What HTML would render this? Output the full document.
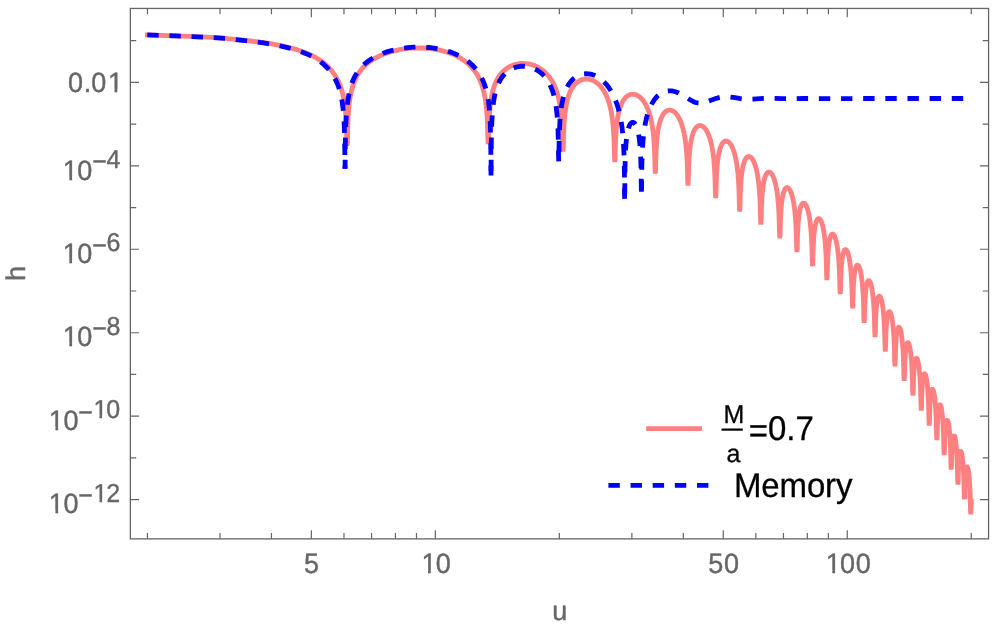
<!DOCTYPE html>
<html><head><meta charset="utf-8"><title>plot</title>
<style>
html,body{margin:0;padding:0;background:#fff;overflow:hidden;}
svg{display:block}
text{font-family:"Liberation Sans",sans-serif;text-rendering:geometricPrecision;font-kerning:none;}
</style></head>
<body>
<svg width="997" height="626" viewBox="0 0 997 626">
<rect width="997" height="626" fill="#fff"/>
<path d="M145.02 34.89L167.02 35.59L189.6 36.43L207.76 37.22L220.44 37.91L225.36 38.28L230.8 38.8L252.92 41.26L259.78 42.08L267.82 43.22L275.72 44.59L283.72 46.26L291.22 48.08L297.64 49.93L303.56 51.94L306.28 52.99L308.68 54L311.08 55.11L313.42 56.29L315.8 57.6L318.1 58.99L320.34 60.45L322.48 61.98L324.28 63.39L326.02 64.9L327.7 66.49L329.34 68.19L331.02 70.1L332.64 72.12L334.18 74.23L335.58 76.34L336.84 78.44L338 80.61L339.06 82.83L340.04 85.16L340.88 87.43L341.64 89.77L342.34 92.23L342.98 94.81L343.56 97.51L344.08 100.33L344.98 106.55L345.68 113.48L346.2 121.16L346.58 129.98L346.86 141.18L347.16 145.8L347.46 140.58L347.82 125.33L348.08 119.1L348.42 113.26L348.82 108.18L349.3 103.52L349.88 99.14L350.54 95.19L351.32 91.42L352.22 87.88L353.24 84.58L354.4 81.44L355.68 78.53L357.12 75.76L358.7 73.15L360.44 70.69L362.54 68.13L364.86 65.72L367.38 63.46L370.12 61.34L373.08 59.36L376.26 57.53L379.66 55.84L383.26 54.3L387.12 52.89L391.16 51.64L395.36 50.57L399.7 49.67L404.16 48.96L408.68 48.43L413.24 48.1L417.82 47.96L422.34 48.02L426.82 48.26L431.22 48.7L435.5 49.33L439.66 50.13L443.7 51.13L447.58 52.3L451.3 53.64L454.82 55.15L458.14 56.81L461.28 58.64L464.24 60.64L466.98 62.78L469.54 65.08L471.9 67.54L474.06 70.15L475.88 72.7L477.54 75.38L479.06 78.23L480.42 81.22L481.64 84.37L482.74 87.76L483.7 91.31L484.54 95.08L485.26 99.06L485.88 103.33L486.42 108.08L486.86 113.11L487.22 118.58L487.52 124.85L487.92 139.29L488.23 144.2L488.54 140.09L488.82 127.88L489.24 117.92L489.84 109.42L490.62 102.29L491.1 99.01L491.64 95.94L492.26 92.99L492.94 90.26L493.7 87.66L494.52 85.25L495.42 82.98L496.4 80.84L497.56 78.65L498.82 76.6L500.18 74.7L501.66 72.92L503.24 71.29L504.92 69.8L506.7 68.46L508.58 67.27L510.56 66.23L512.62 65.34L514.76 64.62L516.96 64.06L519.22 63.68L521.5 63.47L523.8 63.44L526.12 63.58L528.4 63.9L530.64 64.38L532.86 65.02L535.02 65.83L537.14 66.8L539.18 67.91L541.16 69.18L543.06 70.6L544.86 72.14L546.56 73.81L548.18 75.62L549.7 77.56L551.12 79.61L552.46 81.81L553.7 84.13L554.84 86.57L555.82 88.97L556.72 91.48L557.54 94.11L558.3 96.92L558.98 99.84L559.58 102.86L560.14 106.18L560.62 109.59L561.4 116.92L562 125.55L562.42 135.5L562.7 147.51L563 151.6L563.3 147.32L563.54 136.72L563.88 127.95L564.34 120.43L564.94 113.87L565.72 107.94L566.66 102.8L567.2 100.46L567.8 98.22L568.46 96.08L569.16 94.12L569.98 92.12L570.86 90.28L571.8 88.58L572.82 86.98L573.9 85.54L575.04 84.23L576.26 83.05L577.52 82.03L578.86 81.14L580.24 80.4L581.68 79.82L583.14 79.39L584.64 79.13L586.18 79.02L587.72 79.08L589.26 79.31L590.78 79.68L592.28 80.21L593.76 80.89L595.22 81.73L596.64 82.7L598.02 83.82L599.36 85.08L600.64 86.46L601.86 87.95L603.02 89.57L604.12 91.3L605.16 93.15L606.14 95.11L607.06 97.19L607.92 99.38L608.72 101.7L609.42 104L610.06 106.39L611.18 111.46L612.12 117.09L612.88 123.3L613.46 129.96L613.92 137.7L614.26 146.64L614.5 157.36L614.8 162L615.1 157.43L615.3 148.23L615.6 139.81L616 132.59L616.5 126.45L617.14 120.88L617.9 116.07L618.82 111.74L619.88 107.96L620.52 106.11L621.2 104.41L621.94 102.81L622.72 101.35L623.56 100L624.44 98.8L625.36 97.74L626.34 96.8L627.36 96L628.42 95.34L629.5 94.84L630.62 94.48L631.76 94.28L632.92 94.23L634.08 94.33L635.26 94.59L636.42 94.99L637.56 95.53L638.7 96.23L639.82 97.06L640.9 98.02L641.96 99.12L642.98 100.34L643.98 101.71L644.92 103.16L645.82 104.74L646.68 106.43L647.5 108.24L648.26 110.13L648.98 112.13L650.28 116.46L651.34 120.94L652.24 125.81L653 131.17L653.62 137.04L654.12 143.6L654.5 150.77L654.8 159.4L655 168.73L655.3 173.6L655.6 169.07L655.78 160.63L656.04 152.89L656.38 146.18L656.8 140.41L657.32 135.26L657.96 130.59L658.72 126.44L659.6 122.8L660.68 119.41L661.28 117.9L661.9 116.55L662.56 115.32L663.26 114.2L664 113.2L664.76 112.35L665.56 111.62L666.4 111.02L667.26 110.57L668.14 110.26L669.04 110.09L669.94 110.07L670.86 110.19L671.78 110.46L672.7 110.87L673.6 111.41L674.5 112.1L675.38 112.92L676.24 113.86L677.08 114.93L677.9 116.13L678.68 117.43L680.14 120.34L681.48 123.7L682.68 127.46L683.74 131.64L684.6 135.9L685.34 140.54L685.98 145.72L686.5 151.3L686.92 157.41L687.26 164.4L687.52 172.35L687.7 180.95L688 185.6L688.3 181.26L688.48 172.83L688.7 166.1L689 159.8L689.38 154.17L689.84 149.22L690.4 144.75L691.04 140.89L691.8 137.39L692.7 134.23L693.74 131.49L694.3 130.32L694.9 129.25L695.52 128.32L696.16 127.53L696.82 126.87L697.52 126.33L698.24 125.92L698.96 125.66L699.7 125.53L700.46 125.54L701.22 125.69L701.98 125.97L702.74 126.4L703.48 126.94L704.22 127.62L704.96 128.44L705.68 129.38L706.38 130.44L707.7 132.87L708.92 135.71L710.04 138.97L711.04 142.59L711.94 146.65L712.68 150.83L713.32 155.38L713.86 160.29L714.32 165.77L714.68 171.52L714.98 178.15L715.2 185.15L715.38 193.84L715.68 198.1L715.98 193.78L716.36 179.3L716.62 173.62L716.96 168.27L717.38 163.43L717.86 159.28L718.44 155.47L719.1 152.16L719.88 149.16L720.78 146.56L721.76 144.47L722.28 143.61L722.84 142.84L723.42 142.21L724 141.72L724.62 141.34L725.24 141.11L725.86 141L726.5 141.03L727.14 141.19L727.8 141.49L728.44 141.91L729.08 142.46L729.72 143.14L730.34 143.94L731.54 145.87L732.68 148.26L733.74 151.07L734.7 154.23L735.56 157.73L736.34 161.66L736.98 165.67L737.54 170.05L738.02 174.8L738.42 179.92L738.76 185.7L739.02 191.73L739.4 206.86L739.7 211.7L740 206.96L740.36 193L740.62 187.19L740.92 182.31L741.28 177.93L741.72 173.86L742.24 170.2L742.82 167.05L743.52 164.14L744.3 161.7L745.16 159.71L746.1 158.18L746.6 157.6L747.12 157.13L747.64 156.8L748.18 156.59L748.74 156.51L749.3 156.56L749.86 156.74L750.42 157.05L750.98 157.48L751.54 158.04L752.62 159.5L753.66 161.41L754.64 163.74L755.56 166.48L756.4 169.58L757.16 173.03L757.84 176.84L758.42 180.87L758.92 185.2L759.34 189.78L759.7 194.82L760 200.35L760.24 206.34L760.58 220.56L760.88 224.7L761.18 220.01L761.52 206.81L762.02 196.88L762.36 192.49L762.76 188.57L763.22 185.11L763.74 182.08L764.36 179.3L765.06 176.93L765.82 175.03L766.64 173.59L767.08 173.03L767.52 172.6L767.98 172.29L768.46 172.09L768.94 172.02L769.44 172.07L769.92 172.24L770.42 172.55L770.9 172.96L771.38 173.49L772.34 174.91L773.26 176.76L774.14 179.05L774.96 181.72L775.7 184.7L776.38 188.05L776.98 191.68L777.5 195.54L777.94 199.57L778.32 203.9L778.66 208.81L779.16 219.56L779.5 233.44L779.8 238.3L780.1 234.28L780.4 221.9L780.88 211.67L781.18 207.54L781.54 203.73L781.96 200.3L782.42 197.39L782.98 194.65L783.6 192.36L784.28 190.49L785.02 189.07L785.8 188.11L786.22 187.79L786.64 187.6L787.06 187.52L787.5 187.57L787.94 187.74L788.38 188.03L789.24 188.94L790.1 190.32L790.94 192.16L791.72 194.36L792.46 196.97L793.14 199.94L793.76 203.25L794.3 206.77L794.76 210.43L795.18 214.54L795.84 223.56L796.32 234.54L796.62 247.32L796.92 252L797.22 247.96L797.52 235.67L797.96 226.17L798.24 222.18L798.58 218.44L798.96 215.21L799.38 212.42L799.88 209.84L800.44 207.64L801.06 205.84L801.72 204.49L802.44 203.56L802.8 203.27L803.18 203.09L803.56 203.03L803.96 203.09L804.34 203.25L804.74 203.54L805.52 204.45L806.28 205.78L807.02 207.53L807.74 209.72L808.4 212.23L809.02 215.12L809.58 218.32L810.08 221.79L810.88 229.25L811.5 238.09L811.94 248.36L812.24 261.09L812.55 266L812.86 260.87L813.16 249.14L813.58 240.24L814.16 232.98L814.52 229.87L814.92 227.17L815.4 224.67L815.92 222.62L816.48 220.99L817.1 219.73L817.76 218.92L818.1 218.68L818.46 218.56L818.8 218.55L819.16 218.66L819.52 218.88L819.88 219.21L820.58 220.19L821.28 221.62L821.94 223.4L822.58 225.6L823.18 228.16L823.72 230.97L824.22 234.12L824.66 237.48L825.38 244.82L825.94 253.46L826.34 263.43L826.62 275.95L826.92 280L827.22 275.33L827.48 264.62L827.88 255.52L828.42 248.3L828.74 245.34L829.12 242.58L829.54 240.21L830.02 238.15L830.54 236.51L831.1 235.27L831.7 234.46L832 234.22L832.32 234.08L832.64 234.05L832.96 234.14L833.28 234.33L833.6 234.62L834.24 235.52L834.88 236.86L835.5 238.59L836.08 240.65L836.62 243.03L837.14 245.82L837.6 248.81L838.02 252.11L838.7 259.18L839.24 267.59L839.64 277.61L839.9 288.97L840.21 294.1L840.52 289.42L840.78 278.78L841.16 270.11L841.66 263.26L842.32 257.69L842.72 255.36L843.16 253.42L843.64 251.85L844.14 250.71L844.68 249.94L844.96 249.71L845.26 249.58L845.54 249.56L845.84 249.65L846.14 249.84L846.44 250.14L847.04 251.06L847.62 252.37L848.18 254.04L848.72 256.09L849.22 258.43L849.7 261.17L850.52 267.39L851.16 274.43L851.66 282.64L852.02 291.9L852.28 303.35L852.59 308.3L852.9 303.57L853.14 293.64L853.5 285.14L853.98 278.33L854.6 272.9L854.98 270.61L855.38 268.77L855.82 267.27L856.3 266.14L856.8 265.41L857.06 265.2L857.34 265.08L857.6 265.07L857.88 265.17L858.44 265.69L858.98 266.59L859.52 267.9L860.04 269.57L860.54 271.6L861 273.89L861.44 276.56L862.2 282.64L862.8 289.57L863.26 297.41L863.62 307L863.86 317.88L864.17 322.8L864.48 317.72L864.72 307.92L865.06 299.87L865.52 293.25L866.12 287.91L866.48 285.72L866.86 283.96L867.28 282.53L867.72 281.5L868.2 280.83L868.44 280.66L868.68 280.58L868.92 280.59L869.18 280.71L869.7 281.27L870.2 282.19L870.7 283.5L871.18 285.16L871.64 287.16L872.48 292.11L873.18 298.06L873.74 304.89L874.18 312.79L874.5 321.63L874.74 332.73L875.04 337.1L875.34 332.87L875.56 323.41L875.88 315.37L876.32 308.67L876.86 303.55L877.18 301.44L877.54 299.62L877.92 298.19L878.34 297.1L878.78 296.4L879 296.2L879.24 296.1L879.46 296.09L879.7 296.18L880.18 296.67L880.66 297.55L881.12 298.78L881.56 300.32L882 302.27L882.8 307.08L883.48 313L884.02 319.76L884.44 327.45L884.76 336.44L884.98 346.6L885.29 351.7L885.6 346.76L885.82 337.59L886.14 329.73L886.56 323.41L887.08 318.51L887.38 316.53L887.72 314.81L888.08 313.48L888.48 312.45L888.9 311.82L889.1 311.67L889.32 311.59L889.54 311.62L889.76 311.74L890.2 312.26L890.64 313.15L891.08 314.43L891.5 316.03L891.9 317.94L892.64 322.7L893.26 328.41L893.76 334.94L894.16 342.52L894.46 351.16L894.68 361.49L894.98 366.3L895.28 362.1L895.5 352.62L895.8 345.02L896.2 338.76L896.68 334.01L896.98 331.94L897.3 330.26L897.64 328.94L898 327.98L898.38 327.36L898.58 327.18L898.78 327.1L898.98 327.12L899.2 327.23L899.62 327.74L900.04 328.62L900.44 329.82L900.84 331.4L901.22 333.28L901.92 337.94L902.52 343.67L903 350.18L903.38 357.63L903.68 366.61L903.88 376.33L904.18 380.8L904.48 376.45L904.7 367.1L904.98 360L905.36 353.93L905.82 349.28L906.4 345.67L906.72 344.39L907.06 343.45L907.42 342.85L907.8 342.61L907.98 342.63L908.18 342.73L908.58 343.24L908.98 344.12L909.36 345.31L909.74 346.88L910.1 348.74L910.76 353.33L911.32 358.88L911.78 365.32L912.14 372.56L912.42 380.98L912.62 390.57L912.92 395.7L913.22 391.43L913.42 382.63L913.7 375.24L914.06 369.3L914.5 364.68L915.04 361.18L915.36 359.85L915.68 358.93L916.02 358.35L916.38 358.12L916.56 358.14L916.74 358.25L917.12 358.75L917.48 359.57L917.84 360.74L918.54 364.09L919.16 368.52L919.7 374.01L920.14 380.31L920.5 387.72L920.76 395.69L920.96 405.34L921.26 410.6L921.56 406.01L921.76 397.28L922.02 390.37L922.36 384.62L922.8 379.9L923.34 376.4L923.64 375.17L923.94 374.33L924.26 373.81L924.6 373.62L924.94 373.79L925.3 374.32L925.66 375.22L926 376.42L926.66 379.81L927.26 384.41L927.76 389.84L928.18 396.26L928.5 403.24L928.76 411.67L928.94 420.88L929.23 425.6L929.52 421.12L929.7 412.96L929.96 405.73L930.3 399.83L930.7 395.4L931.2 391.99L931.48 390.76L931.76 389.92L932.08 389.34L932.4 389.13L932.72 389.27L933.06 389.76L933.4 390.61L933.72 391.75L934.34 394.96L934.9 399.27L935.4 404.71L935.8 410.83L936.12 417.76L936.38 426.1L936.56 435.14L936.86 440L937.16 435.14L937.34 427.28L937.6 420.28L937.92 414.81L938.32 410.43L938.8 407.21L939.08 406.03L939.36 405.24L939.66 404.77L939.96 404.64L940.26 404.84L940.58 405.38L940.9 406.27L941.2 407.43L941.78 410.63L942.32 415.03L942.78 420.31L943.16 426.39L943.46 433.15L943.7 441.04L943.88 450.21L944.17 455L944.46 450.79L944.64 442.63L944.88 435.89L945.18 430.49L945.56 426.08L946.02 422.81L946.28 421.63L946.54 420.83L946.82 420.32L947.1 420.15L947.4 420.3L947.7 420.78L948 421.6L948.3 422.74L948.86 425.86L949.38 430.15L949.82 435.25L950.18 441L950.48 447.7L950.72 455.5L950.9 464.5L951.2 469.7L951.5 464.9L951.68 457.04L951.92 450.5L952.22 445.25L952.58 441.16L953.02 438.09L953.28 436.94L953.54 436.19L953.8 435.77L954.08 435.66L954.36 435.88L954.66 436.45L954.94 437.31L955.22 438.49L955.76 441.74L956.24 445.97L956.66 451.14L957.02 457.32L957.3 464.11L957.68 480.49L957.97 484.5L958.26 479.87L958.44 471.99L958.66 465.9L958.94 460.81L959.3 456.59L959.72 453.56L959.96 452.47L960.2 451.73L960.46 451.29L960.72 451.17L960.98 451.35L961.26 451.87L961.54 452.73L961.8 453.83L962.3 456.84L962.76 460.87L963.18 466.03L963.52 471.82L963.8 478.48L964.18 494.29L964.48 499.4L964.78 494.48L964.96 486.72L965.18 480.72L965.46 475.72L965.8 471.78L966.22 468.8L966.44 467.83L966.68 467.13L966.92 466.75L967.18 466.68L967.44 466.93L967.7 467.49L968.22 469.55L968.7 472.66L969.14 476.79L969.54 482.03L969.86 487.84L970.12 494.42L970.48 510.36L970.77 514.4L971.06 509.45L971.34 498.64" fill="none" stroke="#ff8080" stroke-width="4.8" stroke-linejoin="bevel"/>
<g fill="none" stroke="#0000ff" stroke-width="4.8" stroke-linejoin="bevel" stroke-dasharray="11.4 10.75">
<path d="M147.3 34.95L169.06 35.7L190.74 36.55L208.52 37.37L220.98 38.09L226.22 38.51L232.1 39.12L254.48 41.7L263.36 42.86L271.82 44.23L280.14 45.89L288.48 47.87L292.14 48.86L295.62 49.89L298.86 50.94L301.94 52.04L304.92 53.19L307.64 54.35L310.18 55.54L312.62 56.81L314.98 58.16L317.26 59.58L319.46 61.09L321.58 62.67L323.4 64.16L325.14 65.74L326.84 67.44L328.48 69.26L330.04 71.18L331.54 73.2L332.98 75.35L334.32 77.56L335.54 79.8L336.66 82.11L337.68 84.48L338.62 86.97L339.46 89.52L340.22 92.18L340.84 94.69L341.42 97.41L341.94 100.26L342.42 103.35L343.2 109.86L343.82 117.48L344.26 125.85L344.58 135.94L344.8 148.92L344.92 164.27L345.01 168.7" stroke-dashoffset="0.00"/>
<path d="M345.01 168.7L345.1 164.33L345.32 141.9L345.52 132.88L345.78 125.42L346.1 119.12L346.52 113.23L346.94 108.79L347.82 101.05L348.5 96.53L349.32 92.26L350.26 88.37L351.34 84.74L352.58 81.33L353.98 78.14L355.54 75.16L357.28 72.35L358.38 70.79L359.54 69.29L360.76 67.85L362.06 66.44L363.42 65.08L364.86 63.77L366.36 62.51L367.94 61.29L371.3 59L374.96 56.88L378.9 54.95L383.12 53.21L387.68 51.64L392.46 50.29L397.46 49.16L402.62 48.26L407.9 47.61L413.24 47.21L418.58 47.06L423.9 47.16L428.82 47.49L433.66 48.04L438.36 48.81L442.9 49.8L447.28 50.99L451.46 52.39L455.44 53.99L459.22 55.79L462.74 57.76L466.04 59.92L469.1 62.26L471.94 64.78L474.54 67.48L476.92 70.37L479.06 73.42L481 76.7L482.5 79.68L483.84 82.81L485.04 86.12L486.12 89.69L487.1 93.62L487.94 97.79L488.5 101.35L489.06 105.99L489.54 111.16L489.92 116.61L490.24 122.91L490.48 129.66L490.8 146.19L490.96 170.74L491.02 175.5" stroke-dashoffset="2.48"/>
<path d="M491.02 175.5L491.08 168.19L491.18 151.19L491.38 136.79L491.68 125.95L492.1 117.14L492.7 109.25L493.48 102.49L493.94 99.47L494.46 96.6L495.04 93.89L495.68 91.33L496.46 88.69L497.32 86.21L498.26 83.89L499.28 81.73L500.4 79.69L501.6 77.81L502.9 76.05L504.28 74.44L505.78 72.94L507.36 71.58L509.04 70.36L510.8 69.3L512.64 68.38L514.56 67.61L516.54 67L518.56 66.56L520.96 66.25L523.38 66.17L525.8 66.32L528.22 66.69L530.6 67.28L532.94 68.09L535.2 69.11L537.38 70.33L539.44 71.73L541.4 73.31L543.24 75.07L544.98 77.01L546.6 79.13L548.1 81.41L549.48 83.85L550.74 86.47L551.78 88.98L552.72 91.61L553.58 94.42L554.36 97.41L555.04 100.5L555.66 103.86L556.2 107.4L556.68 111.24L557.08 115.19L557.44 119.68L557.98 129.53L558.34 141.37L558.56 156.33L558.73 161.4" stroke-dashoffset="17.75"/>
<path d="M558.73 161.4L558.9 156.77L559.12 141.62L559.48 129.77L560 120.26L560.34 116L560.74 112.03L561.22 108.21L561.76 104.72L562.38 101.44L563.08 98.37L563.84 95.54L564.68 92.9L565.6 90.45L566.62 88.15L567.88 85.74L569.24 83.57L570.72 81.59L572.32 79.82L574.02 78.27L575.84 76.93L577.76 75.81L579.76 74.92L581.84 74.28L583.98 73.88L586.16 73.73L588.38 73.83L590.6 74.17L592.82 74.77L595.02 75.61L597.18 76.68L599.06 77.83L600.88 79.14L602.66 80.62L604.4 82.29L606.06 84.1L607.66 86.06L609.2 88.19L610.66 90.45L612.04 92.83L613.34 95.35L614.58 98.03L615.7 100.76L616.76 103.66L617.76 106.74L618.66 109.88L619.5 113.22L620.2 116.4L620.84 119.72L621.92 126.67L622.78 134.29L623.44 142.77L623.9 151.81L624.24 162.91L624.46 176.59L624.58 193.33L624.66 198.9" stroke-dashoffset="13.03"/>
<path d="M624.66 198.9L624.74 193.52L624.9 173.78L625.18 160.08L625.64 149.13L625.94 144.64L626.3 140.59L626.74 136.84L627.26 133.48L627.86 130.54L628.52 128.09L629.28 126.01L630.1 124.4L630.54 123.76L630.98 123.25L631.44 122.86L631.92 122.58L632.44 122.43L632.98 122.42L633.52 122.58L634.06 122.89L634.58 123.34L635.1 123.96L635.6 124.71L636.08 125.61L636.96 127.74L637.76 130.4L638.46 133.52L639.08 137.19L639.56 140.93L639.98 145.25L640.34 150.25L640.62 155.58L641.02 168.32L641.26 186.33L641.4 191.7" stroke-dashoffset="17.95"/>
<path d="M641.4 191.7L641.54 185.81L641.7 171.96L641.94 161.17L642.3 151.68L642.8 143.35L643.46 135.95L644.28 129.42L645.3 123.42L646.52 117.97L647.26 115.25L648.08 112.62L648.94 110.19L649.88 107.85L650.88 105.65L651.94 103.6L653.08 101.65L654.26 99.89L655.46 98.32L656.78 96.82L658.14 95.5L659.54 94.34L660.98 93.35L662.48 92.51L664 91.85L665.56 91.35L666.8 91.07L668.06 90.9L669.34 90.82L670.62 90.85L671.94 90.98L673.28 91.21L674.64 91.54L676.02 91.97L678.56 92.99L681.3 94.38L683.92 95.92L689.98 99.73L691.64 100.68L693.12 101.43L694.86 102.17L696.5 102.68L698.1 103L699.7 103.13L700.94 103.11L702.22 102.97L703.56 102.72L705 102.36L707.56 101.51L714.36 98.94L716.34 98.31L718.22 97.8L720.04 97.4L721.84 97.12L723.64 96.94L725.46 96.85L727.82 96.89L730.34 97.09L733.2 97.46L739.42 98.47L742.26 98.86L745.38 99.15L748.42 99.26L753 99.12L763.5 98.34L768.6 98.2L772.84 98.26L782.34 98.58L786.8 98.64L803.28 98.45L818.38 98.53L971.28 98.51" stroke-dashoffset="0.17"/>
</g>
<rect x="130.35" y="8.45" width="858.22" height="530.43" fill="none" stroke="#666" stroke-width="1.3"/>
<path d="M147.44 538.88v-5.85M147.44 8.45v5.85M219.98 538.88v-5.85M219.98 8.45v5.85M271.44 538.88v-5.85M271.44 8.45v5.85M343.97 538.88v-5.85M343.97 8.45v5.85M371.55 538.88v-5.85M371.55 8.45v5.85M395.43 538.88v-5.85M395.43 8.45v5.85M416.50 538.88v-5.85M416.50 8.45v5.85M559.34 538.88v-5.85M559.34 8.45v5.85M631.88 538.88v-5.85M631.88 8.45v5.85M683.34 538.88v-5.85M683.34 8.45v5.85M755.87 538.88v-5.85M755.87 8.45v5.85M783.45 538.88v-5.85M783.45 8.45v5.85M807.33 538.88v-5.85M807.33 8.45v5.85M828.40 538.88v-5.85M828.40 8.45v5.85M971.24 538.88v-5.85M971.24 8.45v5.85M311.36 538.88v-8.70M311.36 8.45v8.70M435.35 538.88v-8.70M435.35 8.45v8.70M723.26 538.88v-8.70M723.26 8.45v8.70M847.25 538.88v-8.70M847.25 8.45v8.70M130.35 499.65h8.70M988.57 499.65h-8.70M130.35 457.92h5.85M988.57 457.92h-5.85M130.35 416.19h8.70M988.57 416.19h-8.70M130.35 374.46h5.85M988.57 374.46h-5.85M130.35 332.73h8.70M988.57 332.73h-8.70M130.35 291.00h5.85M988.57 291.00h-5.85M130.35 249.27h8.70M988.57 249.27h-8.70M130.35 207.54h5.85M988.57 207.54h-5.85M130.35 165.81h8.70M988.57 165.81h-8.70M130.35 124.08h5.85M988.57 124.08h-5.85M130.35 82.35h8.70M988.57 82.35h-8.70M130.35 40.62h5.85M988.57 40.62h-5.85" fill="none" stroke="#666" stroke-width="1.2"/>
<g fill="#666" font-size="27" opacity="0.999" stroke="#666" stroke-width="0.4" stroke-linejoin="round">
<text transform="scale(0.96429 1)"><tspan font-size="28" x="70.60 86.77 94.73 111.92" y="92.00">0.01</tspan></text>
<text transform="scale(0.96429 1)"><tspan font-size="28" x="65.04 80.21" y="180.00">10</tspan><tspan font-size="25.93" x="95.61 110.55" y="170.00 168.00">−4</tspan></text>
<text transform="scale(0.96429 1)"><tspan font-size="28" x="65.04 80.21" y="263.00">10</tspan><tspan font-size="25.93" x="95.61 110.55" y="254.00 251.00">−6</tspan></text>
<text transform="scale(0.96429 1)"><tspan font-size="28" x="65.04 80.21" y="346.00">10</tspan><tspan font-size="25.93" x="95.61 110.55" y="337.00 335.00">−8</tspan></text>
<text transform="scale(0.96429 1)"><tspan font-size="28" x="50.63 65.80" y="430.00">10</tspan><tspan font-size="25.93" x="81.20 96.86 110.26" y="421.00 418.00 418.00">−10</tspan></text>
<text transform="scale(0.96429 1)"><tspan font-size="28" x="50.63 65.80" y="513.00">10</tspan><tspan font-size="25.93" x="81.20 96.86 110.26" y="504.00 502.00 502.00">−12</tspan></text>
<text transform="scale(0.96429 1)"><tspan font-size="28" x="315.17" y="573.00">5</tspan></text>
<text transform="scale(0.96429 1)"><tspan font-size="28" x="437.03 451.89" y="573.00">10</tspan></text>
<text transform="scale(0.96429 1)"><tspan font-size="28" x="734.55 750.81" y="573.00">50</tspan></text>
<text transform="scale(0.96429 1)"><tspan font-size="28" x="856.30 871.16 887.34" y="573.00">100</tspan></text>
<text x="552.21" y="619.8">u</text>
<text transform="translate(25.0 280.92) rotate(-90)">h</text>
</g>
<g fill="#fff">
<rect x="108.68" y="88.91" width="5.83" height="4.29"/>
<rect x="117.30" y="88.91" width="5.62" height="4.29"/>
<rect x="63.48" y="176.91" width="5.83" height="4.29"/>
<rect x="72.10" y="176.91" width="5.62" height="4.29"/>
<rect x="63.48" y="259.91" width="5.83" height="4.29"/>
<rect x="72.10" y="259.91" width="5.62" height="4.29"/>
<rect x="63.48" y="342.91" width="5.83" height="4.29"/>
<rect x="72.10" y="342.91" width="5.62" height="4.29"/>
<rect x="49.58" y="426.91" width="5.83" height="4.29"/>
<rect x="58.20" y="426.91" width="5.62" height="4.29"/>
<rect x="94.00" y="415.06" width="5.48" height="4.14"/>
<rect x="102.10" y="415.06" width="5.29" height="4.14"/>
<rect x="49.58" y="509.91" width="5.83" height="4.29"/>
<rect x="58.20" y="509.91" width="5.62" height="4.29"/>
<rect x="94.00" y="499.06" width="5.48" height="4.14"/>
<rect x="102.10" y="499.06" width="5.29" height="4.14"/>
<rect x="422.18" y="569.91" width="5.83" height="4.29"/>
<rect x="430.80" y="569.91" width="5.62" height="4.29"/>
<rect x="826.48" y="569.91" width="5.83" height="4.29"/>
<rect x="835.10" y="569.91" width="5.62" height="4.29"/>
</g>
<g fill="#000" opacity="0.999">
<path d="M646.2 428.6H702.1" stroke="#ff8080" stroke-width="4.8" fill="none"/>
<path d="M608.4 485.45H709" stroke="#0000ff" stroke-width="4.8" fill="none" stroke-dasharray="11.4 10.75"/>
<rect x="721.5" y="428.5" width="21.3" height="2.2"/>
<g stroke="#000" stroke-width="0.3" stroke-linejoin="round">
<text transform="scale(0.96429 1)"><tspan font-size="34.22" x="776.43 796.41 815.45 824.96" y="442.00 440.00 440.00 440.00">=0.7</tspan></text>
<text transform="scale(0.96429 1)"><tspan font-size="25.93" x="750.18" y="423.00">M</tspan></text>
<text font-size="25" x="726.42" y="462.4">a</text>
<text transform="scale(0.96429 1)"><tspan font-size="34.22" x="761.19 789.54 808.41 836.77 855.64 866.88" y="497.00">Memory</tspan></text>
</g>
</g>
</svg>
</body></html>
